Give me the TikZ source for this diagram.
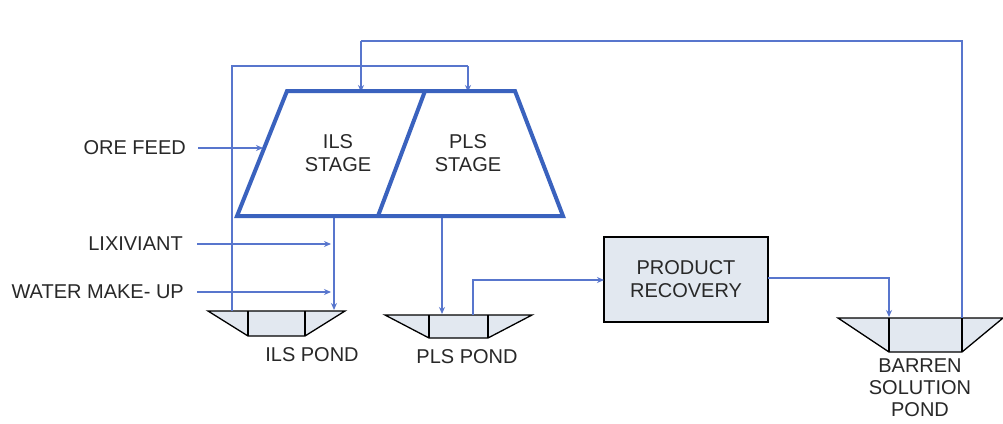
\documentclass[tikz,border=0pt]{standalone}
\usepackage{fontspec}
\setmainfont{Liberation Sans}
\usetikzlibrary{arrows.meta}
\definecolor{stageblue}{RGB}{58,98,190}
\definecolor{flowblue}{RGB}{88,118,205}
\definecolor{txt}{RGB}{40,40,40}
\definecolor{pondfill}{RGB}{226,232,240}
\tikzset{
  lbl/.style={font=\fontsize{20}{23}\selectfont, text=txt, inner sep=0pt, align=center},
  stage/.style={draw=stageblue, line width=4pt, line join=miter},
  flow/.style={draw=flowblue, line width=1.4pt, -{Stealth[length=7pt,width=6pt]}},
  flowline/.style={draw=flowblue, line width=1.4pt},
  pond/.style={draw=black, line width=1.3pt, fill=pondfill, line join=miter},
  pondwall/.style={draw=black, line width=1.3pt},
  boxstyle/.style={draw=black, line width=1.5pt, fill=pondfill, minimum width=164pt, minimum height=85pt, inner sep=0pt}
}
\begin{document}
\begin{tikzpicture}[x=1pt,y=-1pt]
\useasboundingbox[fill=white] (0,0) rectangle (1003,423);

% stage corners
\coordinate (ilsTL) at (287,91);
\coordinate (ilsTR) at (425,91);
\coordinate (ilsBR) at (378,216);
\coordinate (ilsBL) at (237,216);
\coordinate (plsTR) at (515,91);
\coordinate (plsBR) at (563,216);

% ILS pond
\coordinate (ipTL) at (208,311); \coordinate (ipTR) at (345,311);
\coordinate (ipBR) at (305,336); \coordinate (ipBL) at (248,336);
\coordinate (ipW1) at (248,311); \coordinate (ipW2) at (305,311);
% PLS pond
\coordinate (ppTL) at (385,315); \coordinate (ppTR) at (532,315);
\coordinate (ppBR) at (488,338); \coordinate (ppBL) at (429,338);
\coordinate (ppW1) at (429,315); \coordinate (ppW2) at (488,315);
% Barren pond
\coordinate (bpTL) at (838,318); \coordinate (bpTR) at (1003,318);
\coordinate (bpBR) at (962,352); \coordinate (bpBL) at (889,352);
\coordinate (bpW1) at (889,318); \coordinate (bpW2) at (962,318);

% ponds
\draw[pond] (ipTL) -- (ipTR) -- (ipBR) -- (ipBL) -- cycle;
\draw[pondwall] (ipW1) -- (ipBL) (ipW2) -- (ipBR);
\draw[pond] (ppTL) -- (ppTR) -- (ppBR) -- (ppBL) -- cycle;
\draw[pondwall] (ppW1) -- (ppBL) (ppW2) -- (ppBR);
\draw[pond] (bpTL) -- (bpTR) -- (bpBR) -- (bpBL) -- cycle;
\draw[pondwall] (bpW1) -- (bpBL) (bpW2) -- (bpBR);

% product recovery
\node[boxstyle, lbl] (prod) at (686,279.5) {PRODUCT\\RECOVERY};

% labels
\node[lbl, anchor=east] (ore) at (186,148) {ORE FEED};
\node[lbl, anchor=east] (lix) at (183,244) {LIXIVIANT};
\node[lbl, anchor=east] (wat) at (184,292) {WATER MAKE- UP};
\node[lbl] (ilsp) at (312,355) {ILS POND};
\node[lbl] (plsp) at (467,357) {PLS POND};
\node[lbl, font=\fontsize{20}{22}\selectfont, anchor=north] (barp) at (920,359) {BARREN\\SOLUTION\\POND};

% flow coordinates
\coordinate (oreS) at (198,148); \coordinate (oreE) at (263,148);
\coordinate (lixS) at (197,244); \coordinate (lixE) at (331,244);
\coordinate (watS) at (197,292); \coordinate (watE) at (331,292);
\coordinate (ilsOut) at (334,216); \coordinate (ilsIn) at (334,310);
\coordinate (plsOut) at (442,216); \coordinate (plsIn) at (442,314);
\coordinate (topL) at (361,41); \coordinate (topR) at (962,41);
\coordinate (ilsTop) at (361,92);
\coordinate (recL) at (232,66); \coordinate (recR) at (468,66);
\coordinate (plsTop) at (468,92);
\coordinate (ppOut) at (473,315); \coordinate (ppUp) at (473,280);
\coordinate (prodIn) at (604,280);
\coordinate (prodOut) at (768,278); \coordinate (bpCorner) at (889,278);
\coordinate (bpIn) at (889,317);

% flows
\draw[flow] (oreS) -- (oreE);
\draw[flow] (lixS) -- (lixE);
\draw[flow] (watS) -- (watE);
\draw[flowline] (ipTL -| recL) -- (recL) -- (recR);
\draw[flow] (recR) -- (plsTop);
\draw[flowline] (bpW2) -- (topR) -- (topL);
\draw[flow] (topL) -- (ilsTop);
\draw[flow] (ilsOut) -- (ilsIn);
\draw[flow] (plsOut) -- (plsIn);
\draw[flow] (ppOut) -- (ppUp) -- (prodIn);
\draw[flow] (prodOut) -- (bpCorner) -- (bpIn);

% stages
\draw[stage] (ilsBL) -- (ilsTL) -- (plsTR) -- (plsBR) -- cycle;
\draw[stage] (ilsTR) -- (ilsBR);
\node[lbl] (ilsst) at (338,153.5) {ILS\\STAGE};
\node[lbl] (plsst) at (468,153.5) {PLS\\STAGE};
\end{tikzpicture}
\end{document}
